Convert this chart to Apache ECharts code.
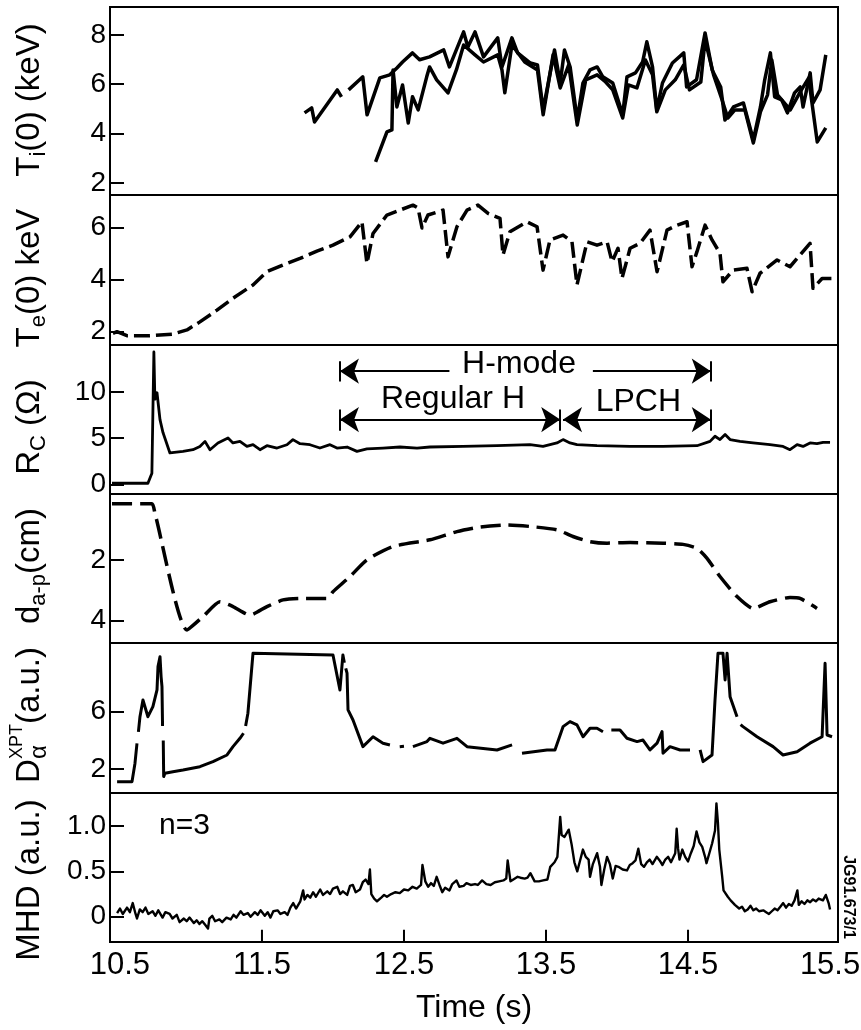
<!DOCTYPE html>
<html>
<head>
<meta charset="utf-8">
<script src="https://cdn.jsdelivr.net/npm/echarts@6/dist/echarts.min.js"></script>
<style>
  html, body { margin: 0; padding: 0; background: #fff; }
  #chart { width: 861px; height: 1030px; }
</style>
</head>
<body>
<div id="chart"></div>
<script>
// ---- time axis ----
const timeTickValues = [11.5, 12.5, 13.5, 14.5];
const timeLabelValues = [10.5, 11.5, 12.5, 13.5, 14.5, 15.5];

// ---- tick labels of each panel ----
const tiTicks = [2, 4, 6, 8];
const teTicks = [2, 4, 6];
const rcTicks = [0, 5, 10];
const dapTicks = [2, 4];
const daTicks = [2, 6];
const mhdTicks = [0, 0.5, 1.0];

// ---- Ti(0) (keV): two traces ----
const tiA = [
  [11.80,4.84],[11.85,5.04],[11.87,4.47],[12.03,5.77],[12.06,5.49],[12.08,null],[12.11,5.77],[12.21,6.30],
  [12.24,4.76],[12.33,6.26],[12.40,6.38],[12.45,6.66],[12.49,6.90],[12.56,7.27],[12.61,6.99],[12.68,7.11],
  [12.78,7.39],[12.82,6.70],[12.92,8.12],[12.95,7.51],[13.00,8.12],[13.06,7.11],[13.16,7.88],[13.19,6.70],
  [13.26,7.88],[13.30,7.27],[13.39,6.86],[13.44,6.78],[13.48,4.96],[13.56,7.39],[13.60,6.05],[13.63,7.39],
  [13.67,6.70],[13.72,4.55],[13.76,6.05],[13.81,6.58],[13.86,6.70],[13.90,6.30],[13.97,6.05],[14.04,4.76],
  [14.07,6.30],[14.13,6.46],[14.18,6.90],[14.21,7.72],[14.25,6.70],[14.28,4.96],[14.32,6.05],[14.39,6.86],
  [14.47,7.27],[14.49,5.89],[14.56,6.18],[14.62,8.08],[14.67,6.58],[14.73,5.89],[14.76,4.55],[14.82,5.08],
  [14.89,5.24],[14.96,3.74],[15.01,5.08],[15.04,6.18],[15.08,7.27],[15.11,5.49],[15.16,5.36],[15.20,4.84],
  [15.25,5.65],[15.29,5.89],[15.31,5.08],[15.36,6.46],[15.38,5.24],[15.43,5.77],[15.47,7.19]
];
const tiB = [
  [12.30,2.85],[12.38,4.07],[12.415,4.15],[12.423,6.58],[12.45,5.08],[12.49,5.97],[12.53,4.43],[12.56,5.49],
  [12.60,4.96],[12.66,6.30],[12.68,6.70],[12.73,6.18],[12.81,5.65],[12.87,6.60],[12.92,7.59],[13.00,7.19],
  [13.06,6.90],[13.16,7.19],[13.19,6.58],[13.21,5.65],[13.26,7.59],[13.35,6.90],[13.44,6.58],[13.48,4.76],
  [13.55,7.19],[13.60,5.85],[13.66,6.78],[13.72,4.35],[13.78,6.18],[13.86,6.38],[13.92,6.09],[13.97,5.77],
  [14.04,4.63],[14.08,5.97],[14.14,5.85],[14.20,6.98],[14.25,6.38],[14.28,4.88],[14.34,5.77],[14.41,6.18],
  [14.47,6.78],[14.51,5.77],[14.59,6.09],[14.62,7.80],[14.68,6.38],[14.74,5.36],[14.78,4.63],[14.83,4.96],
  [14.90,4.96],[14.96,3.62],[15.01,4.88],[15.06,5.57],[15.09,6.98],[15.13,5.57],[15.22,4.96],[15.29,5.69],
  [15.35,6.26],[15.37,5.36],[15.41,3.66],[15.47,4.23]
];

// ---- Te(0) keV ----
const te = [
  [10.451,1.94],[10.479,2.00],[10.549,1.85],[10.711,1.85],[10.873,1.91],[10.972,2.07],[11.063,2.38],[11.183,2.83],
  [11.296,3.29],[11.437,3.80],[11.535,4.31],[11.648,4.57],[11.768,4.82],[11.887,5.10],[12.000,5.33],[12.120,5.65],
  [12.204,6.23],[12.239,4.63],[12.282,5.78],[12.380,6.49],[12.472,6.68],[12.563,6.87],[12.599,6.76],[12.627,5.99],
  [12.669,6.49],[12.683,6.55],[12.775,6.68],[12.810,4.88],[12.873,6.04],[12.944,6.68],[13.021,6.87],[13.092,6.55],
  [13.176,6.36],[13.197,4.95],[13.246,5.85],[13.366,6.23],[13.437,6.04],[13.479,4.37],[13.528,5.53],[13.620,5.72],
  [13.683,5.46],[13.718,3.80],[13.789,5.46],[13.859,5.33],[13.930,5.46],[13.965,4.69],[14.007,5.21],[14.035,4.05],
  [14.092,5.21],[14.162,5.40],[14.232,5.91],[14.282,4.31],[14.352,5.91],[14.423,6.10],[14.493,6.23],[14.528,4.50],
  [14.563,5.08],[14.620,6.10],[14.669,5.53],[14.725,5.02],[14.746,3.92],[14.817,4.37],[14.915,4.44],[14.951,3.54],
  [15.007,4.25],[15.127,4.76],[15.218,4.50],[15.359,5.40],[15.380,3.67],[15.444,4.05],[15.550,4.05]
];

// ---- R_C (Ohm) ----
const rc = [
  [10.444,0.13],[10.697,0.13],[10.725,1.2],[10.739,14.3],[10.746,9.2],[10.761,9.9],[10.782,7.0],[10.803,5.6],
  [10.852,3.4],[10.944,3.57],[11.014,3.75],[11.063,4.1],[11.099,4.65],[11.134,3.75],[11.190,4.48],[11.261,5.02],
  [11.296,4.48],[11.345,4.65],[11.394,4.1],[11.437,4.29],[11.486,3.75],[11.535,4.18],[11.606,3.93],[11.676,4.29],
  [11.718,4.84],[11.768,4.4],[11.838,4.29],[11.908,3.93],[11.979,4.29],[12.028,3.93],[12.099,4.04],[12.169,3.57],
  [12.239,3.83],[12.352,3.93],[12.472,4.04],[12.592,3.93],[12.683,4.04],[12.915,4.1],[13.155,4.18],[13.387,4.29],
  [13.479,4.1],[13.577,4.48],[13.620,4.84],[13.669,4.48],[13.718,4.29],[13.859,4.18],[14.092,4.1],[14.324,4.1],
  [14.563,4.18],[14.655,4.65],[14.690,5.2],[14.725,4.84],[14.761,5.38],[14.796,4.84],[14.866,4.65],[14.958,4.48],
  [15.077,4.29],[15.169,4.1],[15.218,3.75],[15.268,4.29],[15.310,4.1],[15.359,4.48],[15.408,4.4],[15.451,4.54],
  [15.500,4.54]
];

// ---- d_a-p (cm) ----
const dap = [
  [10.444,0.155],[10.725,0.155],[10.746,0.46],[10.972,4.31],[11.085,3.87],[11.204,3.38],[11.296,3.54],[11.415,3.82],
  [11.535,3.54],[11.648,3.32],[11.768,3.27],[11.958,3.27],[12.000,3.05],[12.120,2.55],[12.239,2.00],[12.423,1.56],
  [12.683,1.34],[12.873,1.07],[13.035,0.92],[13.225,0.85],[13.387,0.90],[13.577,1.01],[13.690,1.23],[13.810,1.40],
  [13.930,1.45],[14.092,1.43],[14.324,1.45],[14.465,1.49],[14.563,1.62],[14.634,1.95],[14.725,2.55],[14.845,3.21],
  [14.958,3.60],[15.077,3.38],[15.218,3.24],[15.289,3.27],[15.408,3.60]
];

// ---- D_alpha XPT (a.u.) ----
const dalpha = [
  [10.48,1.14],[10.585,1.14],[10.606,2.42],[10.62,3.8],[10.625,null],[10.63,4.6],[10.641,5.65],[10.662,6.81],
  [10.697,5.65],[10.732,6.35],[10.761,7.51],[10.768,9.13],[10.782,9.82],[10.790,8.4],[10.796,7.74],[10.80,5.0],
  [10.802,null],[10.805,4.0],[10.808,1.49],[10.817,1.72],[10.873,1.83],[10.944,1.95],[11.063,2.18],[11.155,2.53],
  [11.254,2.99],[11.296,3.57],[11.345,4.15],[11.37,4.5],[11.378,null],[11.385,5.0],[11.401,5.89],[11.437,10.06],
  [12.000,9.94],[12.049,7.51],[12.070,9.94],[12.080,9.4],[12.085,null],[12.090,9.0],[12.099,8.67],[12.106,6.12],
  [12.141,5.42],[12.211,3.57],[12.282,4.26],[12.352,3.81],[12.401,3.69],[12.43,null],[12.47,3.57],[12.50,3.60],
  [12.53,null],[12.563,3.57],[12.662,3.92],[12.683,4.15],[12.775,3.81],[12.873,4.15],[12.944,3.57],[13.155,3.34],
  [13.261,3.69],[13.30,null],[13.331,3.11],[13.507,3.34],[13.563,3.34],[13.620,4.96],[13.669,5.31],[13.718,5.08],
  [13.761,4.26],[13.810,4.85],[13.859,4.85],[13.901,4.61],[13.93,null],[13.96,4.73],[14.021,4.73],[14.070,4.15],
  [14.141,3.92],[14.183,4.03],[14.232,3.34],[14.282,3.81],[14.317,4.61],[14.324,3.11],[14.373,3.57],[14.444,3.34],
  [14.514,3.34],[14.55,null],[14.585,3.34],[14.606,2.53],[14.669,2.99],[14.690,6.81],[14.711,10.06],[14.746,10.06],
  [14.761,8.2],[14.775,10.06],[14.796,7.04],[14.845,5.65],[14.855,null],[14.870,5.1],[14.887,4.96],[14.986,4.26],
  [15.099,3.57],[15.169,2.99],[15.268,3.22],[15.359,3.81],[15.444,4.26],[15.465,9.36],[15.479,4.38],[15.514,4.26]
];

// ---- MHD n=3 (a.u.) ----
const mhd = [
  [10.48,0.04],[10.50,0.09],[10.52,0.03],[10.55,0.10],[10.57,0.05],[10.59,0.15],[10.61,0.03],[10.62,-0.02],
  [10.64,0.08],[10.66,0.05],[10.68,0.10],[10.70,0.03],[10.73,0.06],[10.75,0.01],[10.77,0.07],[10.80,-0.01],
  [10.82,0.05],[10.85,0.03],[10.87,-0.02],[10.90,0.02],[10.92,-0.06],[10.95,-0.02],[10.97,-0.05],[10.99,-0.01],
  [11.02,-0.07],[11.04,-0.04],[11.06,-0.08],[11.08,-0.05],[11.10,-0.09],[11.12,-0.13],[11.13,-0.02],[11.15,0.01],
  [11.17,-0.05],[11.20,-0.03],[11.22,-0.06],[11.25,-0.01],[11.28,-0.03],[11.30,0.02],[11.32,-0.01],[11.35,0.06],
  [11.37,0.02],[11.40,0.04],[11.42,0.00],[11.45,0.05],[11.47,0.02],[11.49,0.07],[11.52,0.01],[11.54,0.05],
  [11.56,-0.01],[11.58,0.06],[11.61,0.07],[11.63,0.03],[11.66,0.05],[11.68,0.02],[11.70,0.10],[11.72,0.15],
  [11.74,0.09],[11.77,0.17],[11.79,0.29],[11.80,0.19],[11.82,0.24],[11.84,0.21],[11.86,0.27],[11.88,0.22],
  [11.91,0.30],[11.93,0.24],[11.96,0.28],[11.98,0.25],[12.00,0.31],[12.03,0.33],[12.05,0.25],[12.07,0.28],
  [12.10,0.24],[12.12,0.34],[12.14,0.35],[12.16,0.27],[12.19,0.30],[12.21,0.38],[12.23,0.41],[12.25,0.36],
  [12.26,0.52],[12.27,0.25],[12.29,0.20],[12.31,0.17],[12.34,0.21],[12.36,0.24],[12.38,0.22],[12.41,0.25],
  [12.44,0.27],[12.47,0.26],[12.50,0.30],[12.53,0.29],[12.56,0.33],[12.59,0.31],[12.62,0.35],[12.63,0.57],
  [12.65,0.39],[12.67,0.33],[12.69,0.37],[12.71,0.34],[12.73,0.44],[12.75,0.35],[12.77,0.27],[12.79,0.32],
  [12.82,0.29],[12.84,0.36],[12.87,0.40],[12.89,0.33],[12.92,0.34],[12.94,0.37],[12.97,0.35],[13.00,0.36],
  [13.02,0.35],[13.05,0.40],[13.08,0.36],[13.11,0.35],[13.14,0.38],[13.17,0.39],[13.20,0.40],[13.22,0.42],
  [13.23,0.62],[13.25,0.39],[13.27,0.41],[13.30,0.44],[13.32,0.43],[13.35,0.42],[13.37,0.43],[13.39,0.48],
  [13.42,0.39],[13.45,0.39],[13.48,0.40],[13.51,0.41],[13.53,0.55],[13.56,0.60],[13.58,0.66],[13.60,1.10],
  [13.61,0.90],[13.63,0.88],[13.66,0.96],[13.68,0.80],[13.70,0.60],[13.72,0.50],[13.74,0.62],[13.76,0.74],
  [13.78,0.66],[13.80,0.63],[13.81,0.44],[13.83,0.58],[13.86,0.70],[13.88,0.55],[13.89,0.35],[13.91,0.52],
  [13.93,0.66],[13.95,0.58],[13.97,0.42],[13.99,0.56],[14.01,0.55],[14.04,0.52],[14.07,0.51],[14.09,0.57],
  [14.11,0.59],[14.13,0.62],[14.15,0.75],[14.17,0.58],[14.19,0.55],[14.21,0.60],[14.23,0.63],[14.25,0.58],
  [14.28,0.66],[14.30,0.62],[14.32,0.57],[14.34,0.63],[14.36,0.66],[14.38,0.60],[14.41,0.70],[14.42,0.97],
  [14.43,0.75],[14.44,0.63],[14.46,0.74],[14.48,0.66],[14.50,0.61],[14.52,0.70],[14.54,0.78],[14.56,0.94],
  [14.58,0.82],[14.60,0.77],[14.62,0.66],[14.63,0.59],[14.65,0.70],[14.67,0.81],[14.69,0.95],[14.70,1.25],
  [14.71,1.05],[14.72,0.74],[14.74,0.45],[14.75,0.29],[14.78,0.22],[14.80,0.18],[14.83,0.13],[14.86,0.09],
  [14.88,0.11],[14.90,0.06],[14.92,0.08],[14.94,0.12],[14.96,0.07],[14.98,0.09],[15.00,0.06],[15.03,0.07],
  [15.05,0.05],[15.07,0.03],[15.09,0.06],[15.11,0.09],[15.13,0.07],[15.15,0.11],[15.17,0.15],[15.19,0.10],
  [15.21,0.14],[15.23,0.12],[15.25,0.18],[15.27,0.29],[15.28,0.13],[15.30,0.17],[15.32,0.14],[15.34,0.18],
  [15.36,0.16],[15.38,0.19],[15.40,0.17],[15.42,0.20],[15.45,0.18],[15.47,0.24],[15.49,0.15],[15.50,0.08]
];

// ---- phase annotations on the R_C panel (time, level) ----
const phaseText = ['H-mode', 'Regular H', 'LPCH'];
const phaseTextT = [13.31, 12.845, 14.15];
const phaseTextV = [13.0, 9.2, 8.9];
const hModeStart = 12.049, regularEnd = 13.60, lpchStart = 13.62, hModeEnd = 14.66;

const FONT = '"Liberation Sans", Arial, Helvetica, sans-serif';
const INK = '#000';

// panel layout (pixel boxes and visible value ranges)
const layout = [
  { top: 7,   height: 188, min: 1.51,   max: 9.13,  ticks: tiTicks },
  { top: 195, height: 150, min: 1.49,   max: 7.26,  ticks: teTicks },
  { top: 345, height: 149, min: -1.03,  max: 15.05, ticks: rcTicks },
  { top: 494, height: 149, min: -0.17,  max: 4.74,  ticks: dapTicks, inverse: true },
  { top: 643, height: 150, min: 0.35,   max: 10.77, ticks: daTicks },
  { top: 793, height: 149, min: -0.279, max: 1.364, ticks: mhdTicks }
];
const LAST = layout.length - 1;

const grid = layout.map(p => ({
  left: 110, right: 23, top: p.top, height: p.height,
  outerBoundsMode: 'none', containLabel: false,
  show: true, borderColor: INK, borderWidth: 2, backgroundColor: 'transparent'
}));

const xAxis = layout.map((p, i) => ({
  type: 'value', gridIndex: i, min: 10.43, max: 15.556, position: 'bottom',
  axisLine: i === LAST
    ? { show: true, onZero: false, lineStyle: { color: INK, width: 2 } }
    : { show: false, onZero: false },
  splitLine: { show: false },
  axisTick: { show: false },
  axisLabel: i === LAST
    ? { show: true, customValues: timeLabelValues, formatter: v => v.toFixed(1),
        fontSize: 31, fontFamily: FONT, color: INK, margin: 8 }
    : { show: false },
  name: i === LAST ? 'Time (s)' : '',
  nameLocation: 'middle', nameGap: 50,
  nameTextStyle: { fontSize: 32, fontFamily: FONT, color: INK }
}));

const yAxis = layout.map((p, i) => ({
  type: 'value', gridIndex: i, min: p.min, max: p.max, inverse: !!p.inverse,
  axisLine: { show: false, onZero: false }, splitLine: { show: false },
  axisTick: { show: true, inside: true, length: 14, customValues: p.ticks, lineStyle: { color: INK, width: 2 } },
  axisLabel: { show: true, customValues: p.ticks, margin: 4, fontSize: 28, fontFamily: FONT, color: INK,
    formatter: v => (i === LAST && v === 1) ? '1.0' : String(v) }
}));

function trace(idx, data, width, dash, smooth) {
  return {
    type: 'line', xAxisIndex: idx, yAxisIndex: idx, data: data,
    showSymbol: false, symbol: 'none', connectNulls: false, smooth: smooth || false,
    lineStyle: { color: INK, width: width, type: dash || 'solid', cap: 'butt', join: 'round' },
    silent: true, animation: false, clip: false
  };
}

const seg = (a, b, s1, s2) => [{ coord: a, symbol: s1 }, { coord: b, symbol: s2 }];

// arrows and end bars of the phase annotations
const hY = 12.23, rY = 7.0;
const barTop1 = 13.3, barBot1 = 11.1, barTop2 = 8.1, barBot2 = 5.8;
const rcSeries = trace(2, rc, 2.8);
rcSeries.markLine = {
  silent: true, animation: false, symbolSize: 19,
  lineStyle: { color: INK, width: 2, type: 'solid', opacity: 1 },
  itemStyle: { color: INK },
  label: { show: false },
  data: [
    seg([hModeStart, hY], [12.82, hY], 'arrow', 'none'),
    seg([13.83, hY], [hModeEnd, hY], 'none', 'arrow'),
    seg([hModeStart, rY], [regularEnd, rY], 'arrow', 'arrow'),
    seg([lpchStart, rY], [hModeEnd, rY], 'arrow', 'arrow'),
    seg([hModeStart, barTop1], [hModeStart, barBot1], 'none', 'none'),
    seg([hModeStart, barTop2], [hModeStart, barBot2], 'none', 'none'),
    seg([regularEnd, barTop2], [regularEnd, barBot2], 'none', 'none'),
    seg([hModeEnd, barTop1], [hModeEnd, barBot1], 'none', 'none'),
    seg([hModeEnd, barTop2], [hModeEnd, barBot2], 'none', 'none')
  ]
};

// inward time ticks standing on the bottom frame of the MHD panel, drawn as short strokes
const tickFoot = -0.275, tickHead = -0.145;
const timeTickStrokes = [];
timeTickValues.forEach(t => {
  timeTickStrokes.push([t, tickFoot], [t, tickHead], [t, null]);
});

function textMarks(idx, names, ts, vs, size) {
  return {
    type: 'scatter', xAxisIndex: idx, yAxisIndex: idx, symbolSize: 0, silent: true, animation: false,
    itemStyle: { color: INK, opacity: 1 },
    data: names.map((n, k) => ({ name: n, value: [ts[k], vs[k]] })),
    label: { show: true, position: 'inside', formatter: '{b}', fontSize: size, fontFamily: FONT,
             color: INK, opacity: 1, textBorderWidth: 0 }
  };
}

const series = [
  trace(0, tiA, 3.5),
  trace(0, tiB, 3.5),
  trace(1, te, 3.5, [16, 6]),
  rcSeries,
  trace(3, dap, 3.5, [20, 8], 0.2),
  trace(4, dalpha, 3),
  trace(5, mhd, 2.4),
  trace(5, timeTickStrokes, 2),
  textMarks(2, phaseText, phaseTextT, phaseTextV, 32),
  textMarks(5, ['n=3'], [10.954], [1.0], 30)
];

// vertical axis titles with sub/superscripts
const measure = document.createElement('canvas').getContext('2d');
function textWidth(s, size) {
  measure.font = size + 'px ' + FONT;
  return measure.measureText(s).width;
}
// each part: [text, fontSize, shift toward the plot (px), stacked-with-next flag]
const titles = [
  { cy: 100, parts: [['T', 33, 0], ['i', 22, 9], ['(0) (keV)', 33, 0]] },
  { cy: 278, parts: [['T', 33, 0], ['e', 22, 9], ['(0) keV', 33, 0]] },
  { cy: 427, parts: [['R', 33, 0], ['C', 22, 9], [' (Ω)', 33, 0]] },
  { cy: 566, parts: [['d', 33, 0], ['a-p', 22, 9], ['(cm)', 33, 0]] },
  { cy: 715, parts: [['D', 33, 0], ['α', 24, 9, true], ['XPT', 18, -13], ['(a.u.)', 33, 0]] },
  { cy: 880, parts: [['MHD (a.u.)', 33, 0]] }
];
const graphic = titles.map(tl => {
  const children = [];
  let x = 0, stackW = 0;
  tl.parts.forEach(([s, size, dy, stacked]) => {
    const w = textWidth(s, size);
    children.push({ type: 'text', x: x, y: dy,
      style: { text: s, fontSize: size, fontFamily: FONT, fill: INK,
               align: 'left', verticalAlign: 'middle', textAlign: 'left', textVerticalAlign: 'middle' } });
    if (stacked) { stackW = w; }
    else { x += Math.max(w, stackW); stackW = 0; }
  });
  children.forEach(c => { c.x -= x / 2; });
  return { type: 'group', x: 30, y: tl.cy, rotation: Math.PI / 2, children: children, silent: true };
});
graphic.push({
  type: 'text', x: 848, y: 897, rotation: -Math.PI / 2, silent: true,
  style: { text: 'JG91.673/1', fontSize: 16, fontWeight: 'bold', fontFamily: FONT, fill: INK,
           align: 'center', verticalAlign: 'middle', textAlign: 'center', textVerticalAlign: 'middle' }
});

const chart = echarts.init(document.getElementById('chart'), null, { renderer: 'canvas' });
chart.setOption({
  backgroundColor: '#fff',
  animation: false,
  grid: grid,
  xAxis: xAxis,
  yAxis: yAxis,
  series: series,
  graphic: graphic
});
</script>
</body>
</html>
